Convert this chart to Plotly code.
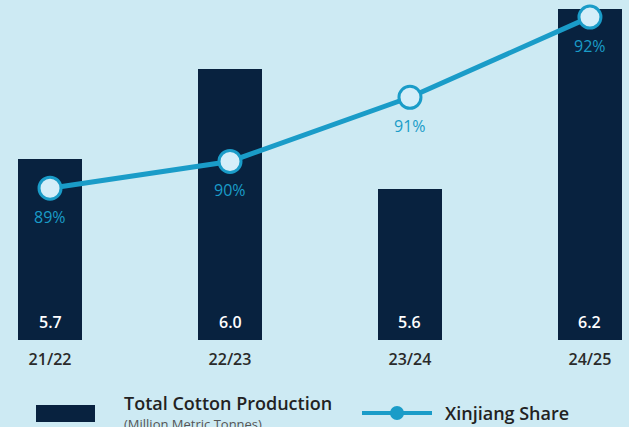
import plotly.graph_objects as go

seasons = ["21/22", "22/23", "23/24", "24/25"]
production = [5.7, 6.0, 5.6, 6.2]          # million metric tonnes
xinjiang_share = [89.1, 89.6, 90.8, 92.3]  # percent

BG = "#cdeaf3"
NAVY = "#08223f"
BLUE = "#1a9cc8"
FONT = "Open Sans"

fig = go.Figure()

fig.add_trace(go.Bar(
    x=seasons, y=production, width=0.356,
    marker=dict(color=NAVY, line=dict(width=0)),
    hoverinfo="skip", showlegend=False,
))

fig.add_trace(go.Scatter(
    x=seasons, y=xinjiang_share, yaxis="y2",
    mode="lines+markers",
    line=dict(color=BLUE, width=5),
    marker=dict(size=22, color="#d4eef9", line=dict(color=BLUE, width=3)),
    hoverinfo="skip", showlegend=False, cliponaxis=False,
))

# bar value labels (near base) and share labels (below markers)
for s, p, sh in zip(seasons, production, xinjiang_share):
    fig.add_annotation(x=s, y=0, yref="y domain", yanchor="bottom", yshift=5,
                       text=f"{p:.1f}", showarrow=False,
                       font=dict(color="white", size=16, family=FONT, weight=600))
    fig.add_annotation(x=s, y=sh, yref="y2", yanchor="middle", yshift=-29,
                       text=f"{sh:.0f}%", showarrow=False,
                       font=dict(color=BLUE, size=16, family=FONT, weight=500))

fig.update_layout(
    width=629, height=427,
    margin=dict(l=0, r=0, t=0, b=87),
    paper_bgcolor=BG, plot_bgcolor=BG,
    bargap=0,
    xaxis=dict(range=[-0.278, 3.217], showgrid=False, zeroline=False,
               showline=False, ticks="", ticklabelstandoff=8,
               tickfont=dict(size=16, color="#2a2a2a", family=FONT, weight=600)),
    yaxis=dict(range=[5.097, 6.23], visible=False, showgrid=False),
    yaxis2=dict(range=[86.26, 92.62], overlaying="y", visible=False, showgrid=False),
    font=dict(family=FONT),
)

# custom legend
fig.add_shape(type="rect", xref="paper", yref="paper",
              x0=36/629, x1=95/629, y0=(340-405)/340, y1=(340-422)/340,
              fillcolor=NAVY, line=dict(width=0))
fig.add_annotation(xref="paper", yref="paper", x=122/629, y=(340-403)/340,
                   xanchor="left", yanchor="middle", showarrow=False,
                   text="Total Cotton Production",
                   font=dict(size=18, color="#222222", family=FONT, weight=600))
fig.add_annotation(xref="paper", yref="paper", x=122/629, y=(340-424)/340,
                   xanchor="left", yanchor="middle", showarrow=False,
                   text="(Million Metric Tonnes)",
                   font=dict(size=13, color="#555555", family=FONT))
fig.add_shape(type="line", xref="paper", yref="paper",
              x0=362/629, x1=432/629, y0=(340-413)/340, y1=(340-413)/340,
              line=dict(color=BLUE, width=4))
fig.add_shape(type="circle", xref="paper", yref="paper",
              x0=390/629, x1=404/629, y0=(340-406)/340, y1=(340-420)/340,
              fillcolor=BLUE, line=dict(width=0))
fig.add_annotation(xref="paper", yref="paper", x=443/629, y=(340-413)/340,
                   xanchor="left", yanchor="middle", showarrow=False,
                   text="Xinjiang Share",
                   font=dict(size=18, color="#222222", family=FONT, weight=600))

fig.write_html("out.html", config={"displayModeBar": False},
               post_script="document.body.style.margin='0';")
